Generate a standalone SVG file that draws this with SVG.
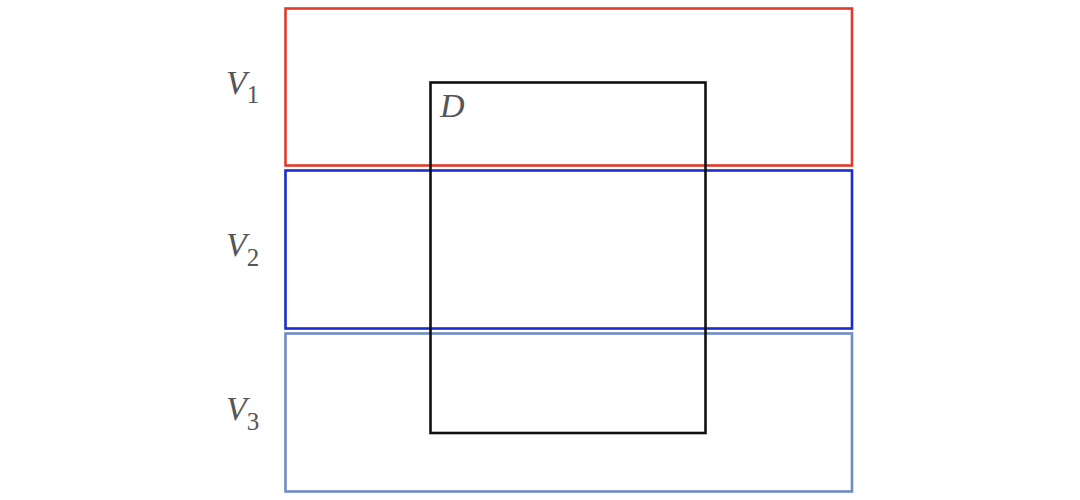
<svg xmlns="http://www.w3.org/2000/svg" width="1080" height="500" viewBox="0 0 1080 500">
<style>
.box{fill:none;stroke-width:2.6}
.lbl{font-family:"Liberation Serif","Times New Roman",serif;fill:#555555}
.it{font-style:italic;font-size:34px}
.sub{font-size:25px}
</style>
<rect width="1080" height="500" fill="#ffffff"/>
<g id="V1">
<rect class="box" x="285.5" y="8.5" width="566.5" height="157" stroke="#de3b2a"/>
<text class="lbl" x="226" y="94"><tspan class="it">V</tspan><tspan class="sub" dy="9">1</tspan></text>
</g>
<g id="V2">
<rect class="box" x="285.5" y="170.5" width="566.5" height="158" stroke="#1c2ccc"/>
<text class="lbl" x="226" y="256"><tspan class="it">V</tspan><tspan class="sub" dy="10">2</tspan></text>
</g>
<g id="V3">
<rect class="box" x="285.5" y="333.5" width="566.5" height="158" stroke="#6e8dc2"/>
<text class="lbl" x="226" y="420"><tspan class="it">V</tspan><tspan class="sub" dy="10">3</tspan></text>
</g>
<g id="D">
<rect class="box" x="430.5" y="82.5" width="275" height="350.5" stroke="#111111"/>
<text class="lbl it" x="440" y="117">D</text>
</g>
<g id="connectors"></g>
</svg>
